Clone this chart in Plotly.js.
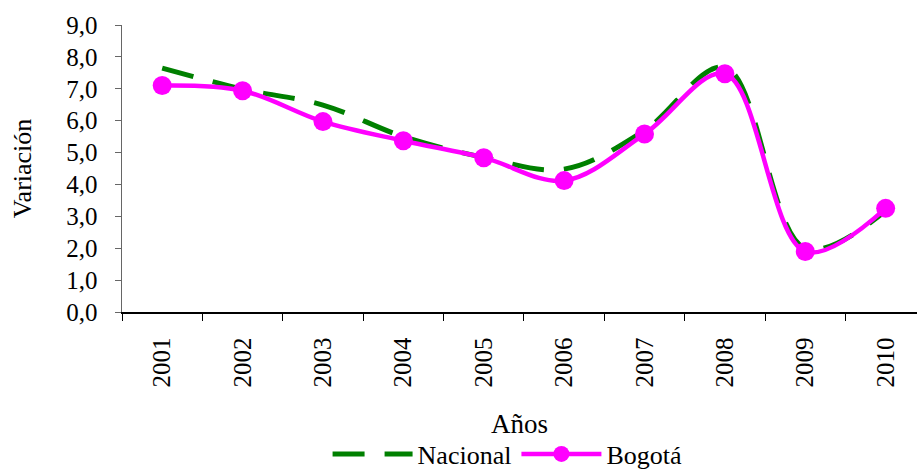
<!DOCTYPE html>
<html>
<head>
<meta charset="utf-8">
<script src="https://cdn.plot.ly/plotly-3.0.1.min.js"></script>
<style>html,body{margin:0;padding:0;background:#fff;}</style>
</head>
<body>
<div id="chart" style="width:917px;height:471px;"></div>
<script>
const years = ["2001","2002","2003","2004","2005","2006","2007","2008","2009","2010"];
const nacional = [7.65, 6.99, 6.49, 5.50, 4.85, 4.48, 5.69, 7.67, 2.00, 3.17];
const bogota = [7.10, 6.94, 5.97, 5.37, 4.84, 4.12, 5.58, 7.47, 1.90, 3.25];
const yTickVals = [0,1,2,3,4,5,6,7,8,9];
const yTickText = ["0,0","1,0","2,0","3,0","4,0","5,0","6,0","7,0","8,0","9,0"];

const serif = "Liberation Serif";
const tickFont = {family: serif, size: 25, color: "#000"};
const data = [
  {
    x: years, y: nacional, name: "Nacional", type: "scatter", mode: "lines",
    line: {color: "#008000", width: 5, dash: "32px,20px", shape: "spline", smoothing: 1}
  },
  {
    x: years, y: bogota, name: "Bogotá", type: "scatter", mode: "lines+markers",
    line: {color: "#FF00FF", width: 4.5, shape: "spline", smoothing: 1},
    marker: {color: "#FF00FF", size: 19}
  }
];
const layout = {
  width: 917, height: 471,
  margin: {l: 122, r: 0, t: 25, b: 159, autoexpand: false},
  paper_bgcolor: "#fff", plot_bgcolor: "#fff",
  font: {family: serif, color: "#000"},
  showlegend: true,
  legend: {orientation: "h", x: 0.485, xanchor: "center", y: -0.495, yanchor: "middle",
           itemwidth: 80,
           font: {family: serif, size: 26, color: "#000"}, tracegroupgap: 0},
  xaxis: {
    type: "category", range: [-0.5, 9.39], tickson: "boundaries",
    ticks: "outside", ticklen: 7, tickcolor: "#000", tickwidth: 1,
    showline: true, linecolor: "#000", linewidth: 1.5, showgrid: false, zeroline: false,
    tickangle: -90, tickfont: tickFont, ticklabelstandoff: 14,
    title: {text: "Años", font: {family: serif, size: 27, color: "#000"}, standoff: 27},
    automargin: false, fixedrange: true
  },
  yaxis: {
    range: [0, 9], tickvals: yTickVals, ticktext: yTickText,
    ticks: "outside", ticklen: 6, tickcolor: "#666", tickwidth: 1,
    showline: true, linecolor: "#666", linewidth: 1.5, showgrid: false, zeroline: false,
    tickfont: tickFont, ticklabelstandoff: 12,
    title: {text: "Variación", font: {family: serif, size: 26, color: "#000"}, standoff: 27},
    automargin: false, fixedrange: true
  }
};
Plotly.newPlot("chart", data, layout, {displayModeBar: false, staticPlot: true});
</script>
</body>
</html>
